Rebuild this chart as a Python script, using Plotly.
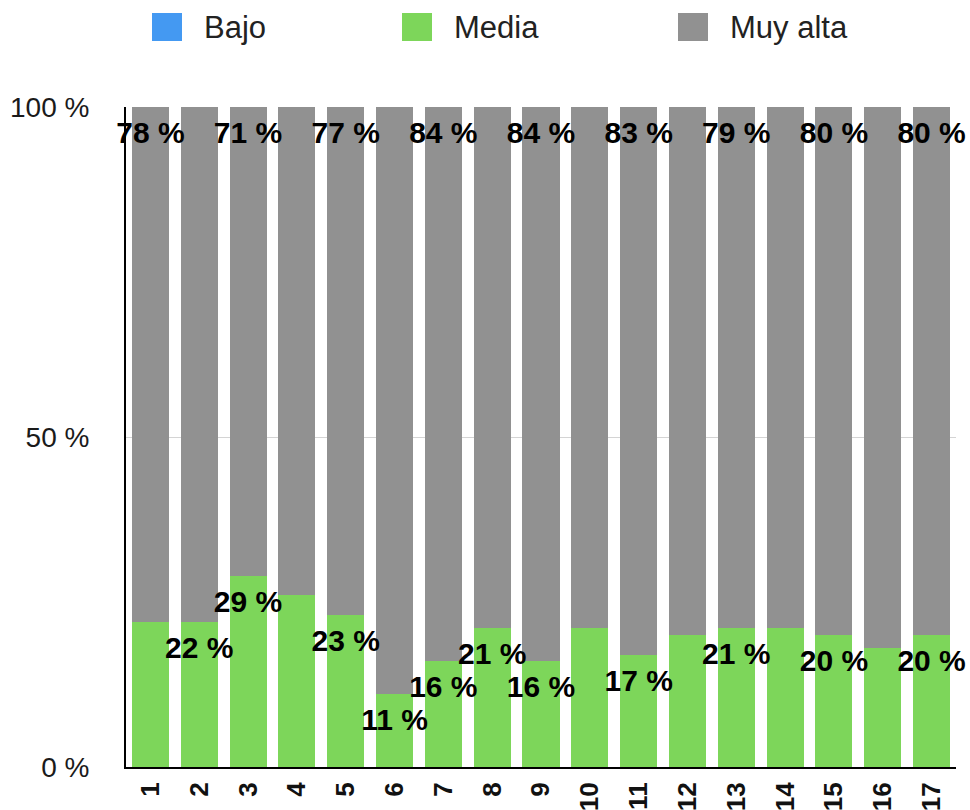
import plotly.graph_objects as go

# Category labels (one per bar)
categories = [str(i) for i in range(1, 18)]

# Share of each level per category, in percent
bajo = [0] * 17
media = [22, 22, 29, 26, 23, 11, 16, 21, 16, 21, 17, 20, 21, 21, 20, 18, 20]
muy_alta = [78, 78, 71, 74, 77, 89, 84, 79, 84, 79, 83, 80, 79, 79, 80, 82, 80]

# Which bars carry a value label for each series
show_media_label = [0, 1, 1, 0, 1, 1, 1, 1, 1, 0, 1, 0, 1, 0, 1, 0, 1]
show_alta_label = [1, 0, 1, 0, 1, 0, 1, 0, 1, 0, 1, 0, 1, 0, 1, 0, 1]

y_ticks = [0, 50, 100]
y_tick_text = ["0 %", "50 %", "100 %"]

series_names = ["Bajo", "Media", "Muy alta"]
colors = {"Bajo": "#4499F2", "Media": "#7DD65A", "Muy alta": "#919191"}

W, H = 970, 810
M_L, M_R, M_T, M_B = 126, 14, 107, 43
PW, PH = W - M_L - M_R, H - M_T - M_B


def px_to_paper(x, y):
    return (x - M_L) / PW, (H - M_B - y) / PH


fig = go.Figure()
for name, vals in zip(series_names, [bajo, media, muy_alta]):
    fig.add_trace(go.Bar(
        x=categories, y=vals, name=name,
        marker=dict(color=colors[name], line=dict(width=0)),
        showlegend=False,
    ))

label_font = dict(family="Liberation Sans, Arial", size=30, color="#000000", weight="bold")

# Value labels sit just inside the top of each segment
media_text = [f"{v} %" if s else "" for v, s in zip(media, show_media_label)]
alta_text = [f"{v} %" if s else "" for v, s in zip(muy_alta, show_alta_label)]
media_top = [b + m for b, m in zip(bajo, media)]
alta_top = [b + m + a for b, m, a in zip(bajo, media, muy_alta)]

for tops, texts in [(media_top, media_text), (alta_top, alta_text)]:
    fig.add_trace(go.Scatter(
        x=categories, y=tops, text=texts, mode="markers+text",
        marker=dict(size=20, opacity=0),
        textposition="bottom center", textfont=label_font,
        cliponaxis=False, showlegend=False, hoverinfo="skip",
    ))

# Legend keys drawn as swatches with captions
legend_items = [("Bajo", 152), ("Media", 402), ("Muy alta", 678)]
for name, x0 in legend_items:
    ax0, ay0 = px_to_paper(x0, 41)
    ax1, ay1 = px_to_paper(x0 + 30, 13)
    fig.add_shape(type="rect", xref="paper", yref="paper",
                  x0=ax0, x1=ax1, y0=ay0, y1=ay1,
                  fillcolor=colors[name], line=dict(width=0))
    tx, ty = px_to_paper(x0 + 50, 27)
    fig.add_annotation(xref="paper", yref="paper", x=tx, y=ty,
                       text=name, showarrow=False, xanchor="left", yanchor="middle",
                       font=dict(family="Liberation Sans, Arial", size=31, color="#222222"))

fig.update_layout(
    width=W, height=H,
    margin=dict(l=M_L, r=M_R, t=M_T, b=M_B, autoexpand=False),
    barmode="stack", bargap=0.24,
    plot_bgcolor="#ffffff", paper_bgcolor="#ffffff",
    font=dict(family="Liberation Sans, Arial", color="#222222"),
)
fig.update_xaxes(
    type="category", range=[-0.5, len(categories) - 0.5], tickangle=-90,
    showline=True, linecolor="#000000", linewidth=2,
    showgrid=False, ticks="", ticklabelstandoff=3,
    tickfont=dict(family="Liberation Sans, Arial", size=26, color="#111111", weight="bold"),
)
fig.update_yaxes(
    range=[0, 100], tickmode="array", tickvals=y_ticks, ticktext=y_tick_text,
    showline=True, linecolor="#000000", linewidth=2,
    showgrid=True, gridcolor="#d4d4d4", gridwidth=1, zeroline=False,
    ticks="", ticklabelstandoff=29,
    tickfont=dict(family="Liberation Sans, Arial", size=28, color="#1a1a1a"),
)

fig.write_html("out.html")
